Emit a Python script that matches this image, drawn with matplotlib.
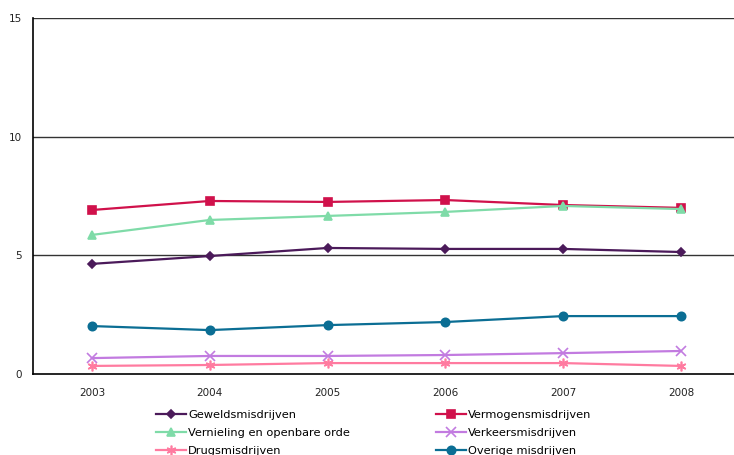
import matplotlib
matplotlib.use("Agg")
import matplotlib.pyplot as plt

years = [2003, 2004, 2005, 2006, 2007, 2008]

geweld = [4.64, 4.97, 5.31, 5.27, 5.27, 5.14]
vermogen = [6.91, 7.29, 7.25, 7.33, 7.12, 7.00]
vernieling = [5.86, 6.49, 6.66, 6.83, 7.08, 6.95]
verkeer = [0.67, 0.76, 0.76, 0.80, 0.88, 0.97]
drugs = [0.34, 0.38, 0.46, 0.46, 0.46, 0.34]
overige = [2.02, 1.85, 2.06, 2.19, 2.44, 2.44]

series = [
  ("Geweldsmisdrijven", geweld, "#4b1a5a", "D", 4.5),
  ("Vermogensmisdrijven", vermogen, "#d0114b", "s", 5.5),
  ("Vernieling en openbare orde", vernieling, "#7fdba8", "^", 6),
  ("Verkeersmisdrijven", verkeer, "#c27be0", "x", 6.5),
  ("Drugsmisdrijven", drugs, "#ff7ba0", (6, 2, 0), 7),
  ("Overige misdrijven", overige, "#0b6e94", "o", 6),
]

plt.rcParams['font.family'] = ['DejaVu Sans']

fig = plt.figure(figsize=(7.34, 4.55), dpi=100)
ax = fig.add_axes([33/734, 1-374/455, 701/734, 356/455])

handles = []
for name, vals, color, marker, ms in series:
  h, = ax.plot(years, vals, color=color, marker=marker, markersize=ms,
               linewidth=1.6, markeredgewidth=1.2, label=name, zorder=3)
  handles.append(h)

ax.set_xlim(2002.5, 2002.5 + 701/117.8)
ax.set_ylim(0, 15)
ax.set_yticks([0, 5, 10, 15])
ax.set_xticks(years)
ax.tick_params(axis="both", length=0, labelsize=7.5, pad=8, colors="#222222")
ax.tick_params(axis="x", pad=10)

for y in [5, 10, 15]:
  ax.axhline(y, color="#333333", linewidth=1.0, zorder=1)

for s in ["top", "right"]:
  ax.spines[s].set_visible(False)
ax.spines["left"].set_linewidth(1.2)
ax.spines["bottom"].set_linewidth(1.2)

# legend in two columns below the plot
leg_opts = dict(loc="upper left", frameon=False, fontsize=8.2, handlelength=2.6,
                labelspacing=0.72, handletextpad=0.2, borderaxespad=0,
                borderpad=0)
fig.legend([handles[0], handles[2], handles[4]],
           [series[0][0], series[2][0], series[4][0]],
           bbox_to_anchor=(156/734, 1-410/455), **leg_opts)
fig.legend([handles[1], handles[3], handles[5]],
           [series[1][0], series[3][0], series[5][0]],
           bbox_to_anchor=(436/734, 1-410/455), **leg_opts)

fig.savefig("out.png", dpi=100)
